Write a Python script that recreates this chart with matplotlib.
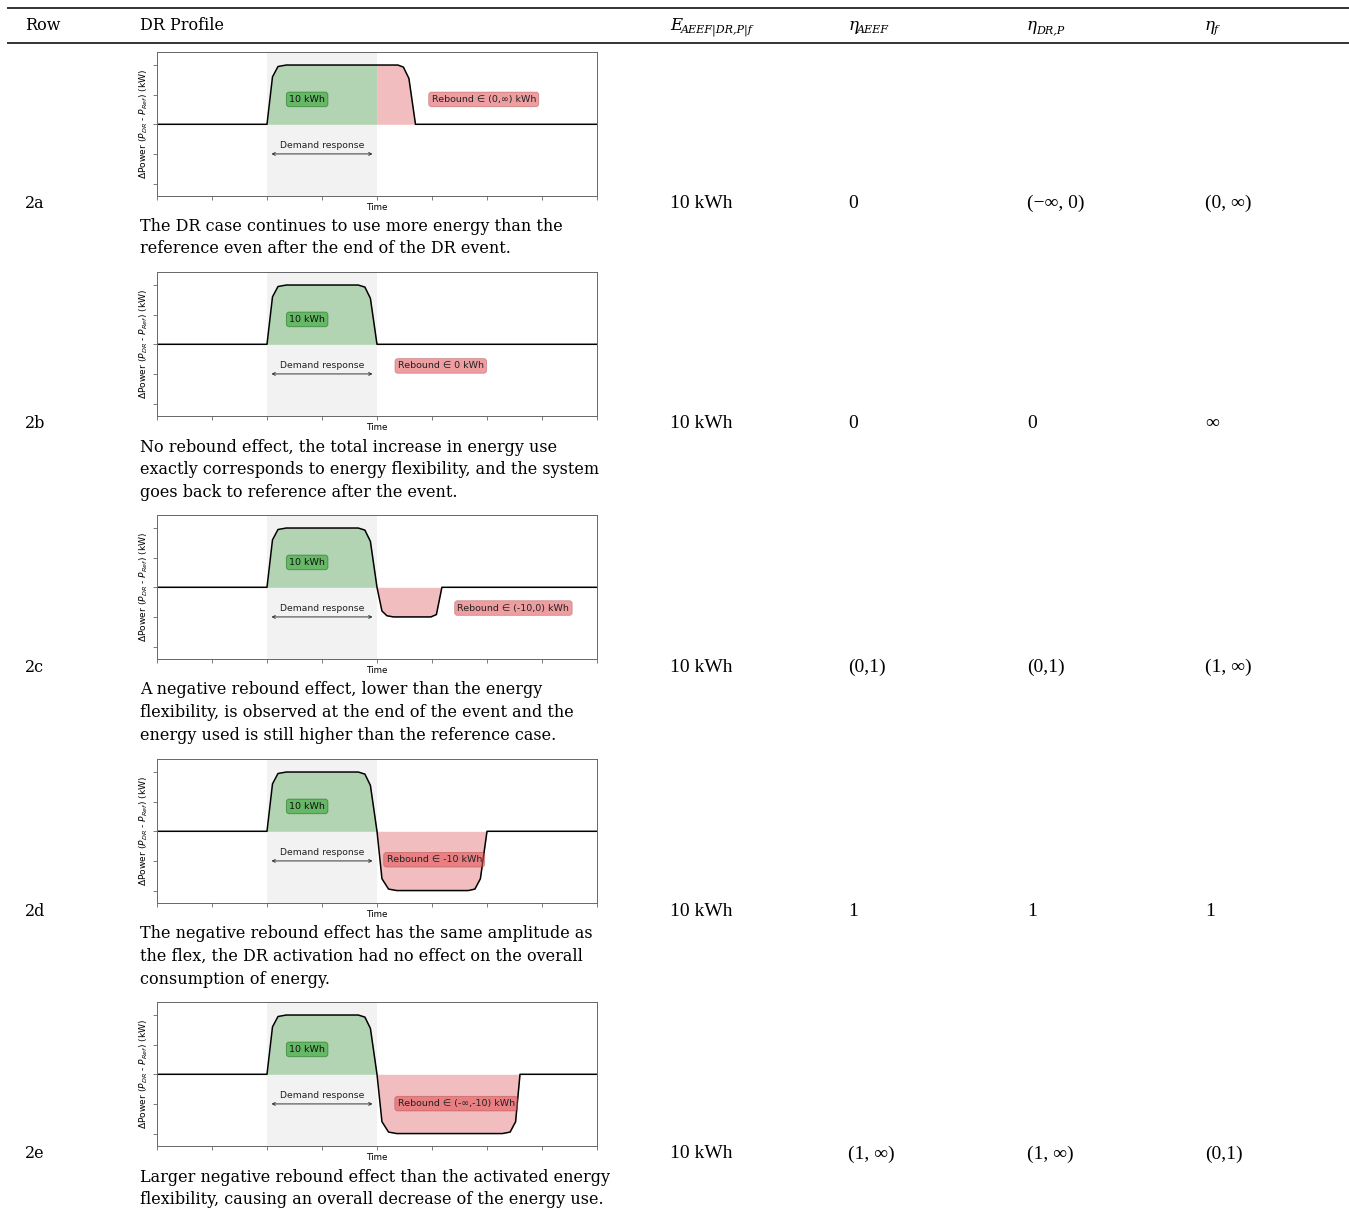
import matplotlib
matplotlib.use("Agg")
import matplotlib.pyplot as plt
import numpy as np
from matplotlib.lines import Line2D

W, H = 1349, 1219

# table columns
row_ids = ['2a', '2b', '2c', '2d', '2e']
e_values = ['10 kWh', '10 kWh', '10 kWh', '10 kWh', '10 kWh']
eta_aeef = ['0', '0', '(0,1)', '1', '(1, ∞)']
eta_drp = ['(−∞, 0)', '0', '(0,1)', '1', '(1, ∞)']
eta_f = ['(0, ∞)', '∞', '(1, ∞)', '1', '(0,1)']

captions = [
    ["The DR case continues to use more energy than the",
     "reference even after the end of the DR event."],
    ["No rebound effect, the total increase in energy use",
     "exactly corresponds to energy flexibility, and the system",
     "goes back to reference after the event."],
    ["A negative rebound effect, lower than the energy",
     "flexibility, is observed at the end of the event and the",
     "energy used is still higher than the reference case."],
    ["The negative rebound effect has the same amplitude as",
     "the flex, the DR activation had no effect on the overall",
     "consumption of energy."],
    ["Larger negative rebound effect than the activated energy",
     "flexibility, causing an overall decrease of the energy use."],
]

# power difference profiles (time in hours-ish units, power in kW)
time_a = [0, 2.0, 2.1, 2.2, 2.35, 4.0, 4.38, 4.48, 4.58, 4.7, 8]
power_a = [0, 0, 1.6, 1.95, 2, 2, 2, 1.93, 1.55, 0, 0]
time_b = [0, 2.0, 2.1, 2.2, 2.35, 3.66, 3.78, 3.88, 4.0, 8]
power_b = [0, 0, 1.6, 1.95, 2, 2, 1.93, 1.55, 0, 0]
time_c = [0, 2.0, 2.1, 2.2, 2.35, 3.66, 3.78, 3.88, 4.0, 4.09, 4.18, 4.3, 4.98, 5.08, 5.18, 8]
power_c = [0, 0, 1.6, 1.95, 2, 2, 1.93, 1.55, 0, -0.8, -0.96, -1, -1, -0.92, 0, 0]
time_d = [0, 2.0, 2.1, 2.2, 2.35, 3.66, 3.78, 3.88, 4.0, 4.09, 4.21, 4.36, 5.66, 5.78, 5.88, 6.0, 8]
power_d = [0, 0, 1.6, 1.95, 2, 2, 1.93, 1.55, 0, -1.6, -1.95, -2, -2, -1.95, -1.6, 0, 0]
time_e = [0, 2.0, 2.1, 2.2, 2.35, 3.66, 3.78, 3.88, 4.0, 4.09, 4.21, 4.36, 6.28, 6.42, 6.52, 6.6, 8]
power_e = [0, 0, 1.6, 1.95, 2, 2, 1.93, 1.55, 0, -1.6, -1.95, -2, -2, -1.95, -1.6, 0, 0]

profiles = [(time_a, power_a), (time_b, power_b), (time_c, power_c),
            (time_d, power_d), (time_e, power_e)]

flex_label = '10 kWh'
flex_pos = (2.73, 0.84)
rebound_labels = ['Rebound ∈ (0,∞) kWh', 'Rebound ∈ 0 kWh', 'Rebound ∈ (-10,0) kWh',
                  'Rebound ∈ -10 kWh', 'Rebound ∈ (-∞,-10) kWh']
rebound_pos = [(5.94, 0.84), (5.16, -0.73), (6.48, -0.70), (5.04, -0.96), (5.44, -0.99)]

dr_start, dr_end = 2, 4

# header symbols: (main letter, subscript, x of main, x of subscript)
header_syms = [('E', 'AEEF|DR,P|f', 670, 681),
               ('η', 'AEEF', 848, 857),
               ('η', 'DR,P', 1027, 1036),
               ('η', 'f', 1205, 1214)]

# pixel layout
chart_top = [52, 272, 515, 759, 1002]
chart_h = 144
chart_left, chart_right = 157, 597
row_y = [203, 424, 667, 911, 1154]
col_x = [25, 140, 670, 848, 1027, 1205]

fig = plt.figure(figsize=(W / 100, H / 100), dpi=100)


def fx(x):
    return x / W


def fy(y):
    return 1 - y / H


serif = 'DejaVu Serif'
times = 'Liberation Serif'

# rules
for y in [8, 43]:
    fig.add_artist(Line2D([fx(8), fx(W)], [fy(y), fy(y)], color='#333333', lw=1.4))

# header
hs = 11.5
fig.text(fx(col_x[0]), fy(25), 'Row', family=serif, fontsize=hs, va='center')
fig.text(fx(col_x[1]), fy(25), 'DR Profile', family=serif, fontsize=hs, va='center')
for main, sub, xm, xs in header_syms:
    fig.text(fx(xm), fy(25), main, family=serif, style='italic', fontsize=hs + 0.5,
             va='center')
    fig.text(fx(xs), fy(30), sub, family=serif, style='italic', fontsize=8,
             va='center')

for i in range(5):
    top = chart_top[i]
    ax = fig.add_axes([fx(chart_left), fy(top + chart_h),
                       fx(chart_right - chart_left), chart_h / H])
    t = np.array(profiles[i][0])
    p = np.array(profiles[i][1])

    ax.axvspan(dr_start, dr_end, color='gray', alpha=0.1, lw=0)
    ax.fill_between(t, p, 0, where=(t >= dr_start) & (t <= dr_end),
                    color='green', alpha=0.26, lw=0)
    ax.fill_between(t, p, 0, where=(t >= dr_end), color='tab:red', alpha=0.3, lw=0)
    ax.plot(t, p, color='black', lw=1.1)

    ax.annotate('', xy=(dr_start + 0.03, -1.0), xytext=(dr_end - 0.03, -1.0),
                arrowprops=dict(arrowstyle='<->', color='#333333', lw=0.7,
                                mutation_scale=5))
    ax.text(3.0, -0.7, 'Demand response', ha='center', va='center', fontsize=6.7,
            color='#222222')
    ax.text(flex_pos[0], flex_pos[1], flex_label, ha='center', va='center', fontsize=6.8,
            color='#111111',
            bbox=dict(boxstyle='round,pad=0.3', facecolor=(0.2, 0.65, 0.2, 0.6),
                      edgecolor=(0.1, 0.4, 0.1, 0.6), lw=0.6))
    ax.text(rebound_pos[i][0], rebound_pos[i][1], rebound_labels[i], ha='center',
            va='center', fontsize=6.8, color='#222222',
            bbox=dict(boxstyle='round,pad=0.3', facecolor=(0.88, 0.3, 0.32, 0.55),
                      edgecolor=(0.6, 0.2, 0.2, 0.4), lw=0.6))

    ax.set_xlim(0, 8)
    ax.set_ylim(-2.42, 2.44)
    ax.set_xticks(range(9))
    ax.set_yticks([-2, -1, 0, 1, 2])
    ax.tick_params(length=3, width=0.6, color='#666666', labelleft=False,
                   labelbottom=False)
    for s in ax.spines.values():
        s.set_color('#666666')
        s.set_linewidth(0.7)
    ax.set_xlabel('Time', fontsize=6.3, labelpad=2)
    ax.set_ylabel(r'$\Delta$Power ($P_{DR}$ - $P_{Ref}$) (kW)', fontsize=6.6, labelpad=2)

    # table cells
    y = row_y[i]
    fig.text(fx(col_x[0]), fy(y), row_ids[i], family=serif, fontsize=hs, va='center')
    fig.text(fx(col_x[2]), fy(y), e_values[i], family=times, fontsize=14, va='center')
    fig.text(fx(col_x[3]), fy(y), eta_aeef[i], family=times, fontsize=14, va='center')
    fig.text(fx(col_x[4]), fy(y), eta_drp[i], family=times, fontsize=14, va='center')
    fig.text(fx(col_x[5]), fy(y), eta_f[i], family=times, fontsize=14, va='center')

    for k, line in enumerate(captions[i]):
        fig.text(fx(col_x[1]), fy(y + 23 + 22.6 * k), line, family=serif,
                 fontsize=hs, va='center')

fig.savefig('out.png', dpi=100)
